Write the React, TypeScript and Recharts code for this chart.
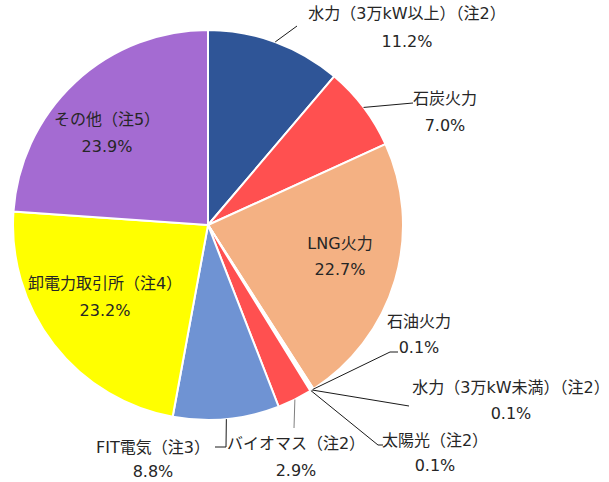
import React from "react";
import { PieChart, Pie, Cell } from "recharts";

const categories = [
  "水力（3万kW以上）（注2）",
  "石炭火力",
  "LNG火力",
  "石油火力",
  "水力（3万kW未満）（注2）",
  "太陽光（注2）",
  "バイオマス（注2）",
  "FIT電気（注3）",
  "卸電力取引所（注4）",
  "その他（注5）",
];

const shares = [11.2, 7.0, 22.7, 0.1, 0.1, 0.1, 2.9, 8.8, 23.2, 23.9];

const colors = [
  "#2F5597",
  "#FF5050",
  "#F4B183",
  "#A5A5A5",
  "#9DC3E6",
  "#FFC000",
  "#FF5050",
  "#6F93D3",
  "#FFFF00",
  "#A46BD2",
];

const data = categories.map((name, i) => ({ name, value: shares[i] }));

// label placement (page coordinates): text center x, two line centers, leader waypoints
type Layout = { x: number; y1: number; y2: number; leader?: number[][]; leaderColor?: string };
const LABEL_LAYOUT: Layout[] = [
  { x: 407, y1: 13, y2: 41, leader: [[297, 26]] },
  { x: 445, y1: 98, y2: 125, leader: [[413, 103]] },
  { x: 340, y1: 243, y2: 269 },
  { x: 419, y1: 321, y2: 347, leader: [[390, 352], [398, 352]] },
  { x: 511, y1: 387, y2: 413, leader: [[409, 406]] },
  { x: 435, y1: 440, y2: 465, leader: [[378, 445], [383, 445]] },
  { x: 296, y1: 443, y2: 470, leader: [[294, 428]], leaderColor: "#7F7F7F" },
  { x: 153, y1: 447, y2: 471, leader: [[226, 447], [215, 447]] },
  { x: 105, y1: 283, y2: 310 },
  { x: 107, y1: 119, y2: 146 },
];

const RAD = Math.PI / 180;
const FONT = "'DejaVu Sans', 'Noto Sans CJK JP', sans-serif";

const renderLabel = (props: any) => {
  const { cx, cy, midAngle, outerRadius, index } = props;
  const lay = LABEL_LAYOUT[index];
  const sx = cx + outerRadius * Math.cos(-midAngle * RAD);
  const sy = cy + outerRadius * Math.sin(-midAngle * RAD);
  let path = "";
  if (lay.leader) {
    path = `M${sx},${sy}` + lay.leader.map((p) => `L${p[0]},${p[1]}`).join("");
  }
  return (
    <g key={`lbl-${index}`}>
      {lay.leader && (
        <path d={path} stroke={lay.leaderColor || "#1a1a1a"} strokeWidth={1} fill="none" />
      )}
      <text
        x={lay.x}
        y={lay.y1}
        textAnchor="middle"
        dominantBaseline="central"
        fontFamily={FONT}
        fontSize={16}
        fill="#262626"
      >
        {categories[index]}
      </text>
      <text
        x={lay.x}
        y={lay.y2}
        textAnchor="middle"
        dominantBaseline="central"
        fontFamily={FONT}
        fontSize={16}
        fill="#262626"
      >
        {shares[index].toFixed(1) + "%"}
      </text>
    </g>
  );
};

export default function App() {
  return (
    <div style={{ position: "absolute", left: 0, top: 0, width: 609, height: 482 }}>
      <PieChart width={609} height={482} margin={{ top: 0, right: 0, bottom: 0, left: 0 }}>
        <Pie
          data={data}
          dataKey="value"
          nameKey="name"
          cx={208}
          cy={225}
          outerRadius={195}
          startAngle={90}
          endAngle={-270}
          stroke="#FFFFFF"
          strokeWidth={2}
          labelLine={false}
          label={renderLabel}
          isAnimationActive={false}
        >
          {data.map((d, i) => (
            <Cell key={d.name} fill={colors[i]} />
          ))}
        </Pie>
      </PieChart>
    </div>
  );
}
